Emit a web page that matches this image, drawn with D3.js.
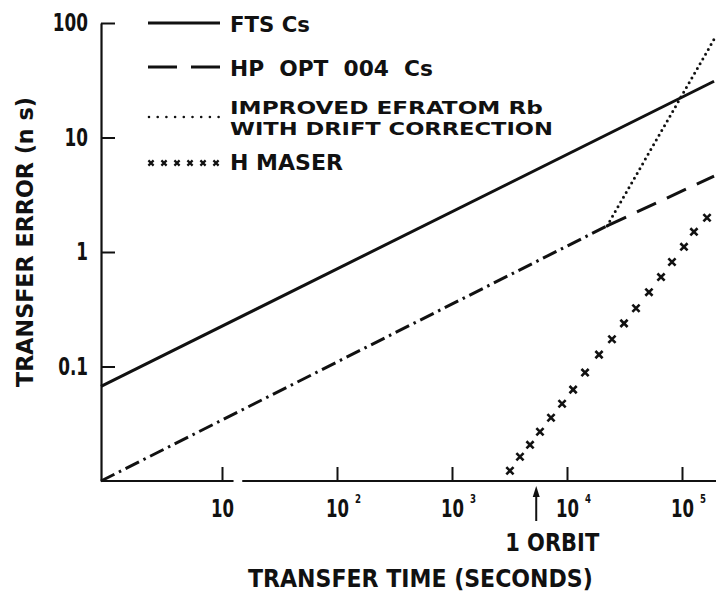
<!DOCTYPE html>
<html>
<head>
<meta charset="utf-8">
<script src="https://cdn.jsdelivr.net/npm/d3@7"></script>
<style>
  body { margin: 0; background: #fff; }
  text { font-family: "Liberation Sans Narrow", "DejaVu Sans Condensed", "Arial Narrow", sans-serif; font-weight: bold; fill: #111; white-space: pre; }
</style>
</head>
<body>
<div id="vis"></div>
<script>
// data (seconds vs ns)
var ftsTau = [0.887, 1.9e5];
var ftsErr = [0.067, 31.0];
var hpTauShared = [0.887, 2.23e4];      // dash-dot part (HP + Rb together)
var hpErrShared = [0.01, 1.69];
var hpTau = [2.23e4, 1.9e5];
var hpErr = [1.69, 4.6];
var rbTau = [2.23e4, 1.9e5];
var rbErr = [1.69, 72];
var maserTau = [3190, 3900, 4770, 5820, 7260, 9060, 11300, 14350, 18980, 24600, 31300, 39800, 51600, 65700, 81800, 104000, 127000, 165000];
var maserErr = [0.0123, 0.0163, 0.0207, 0.0269, 0.0357, 0.0473, 0.0628, 0.0885, 0.127, 0.173, 0.238, 0.323, 0.446, 0.604, 0.817, 1.11, 1.50, 1.99];
var xTicks = [10, 100, 1e3, 1e4, 1e5];
var xTickExp = ["", "2", "3", "4", "5"];
var yTicks = [0.1, 1, 10, 100];
var yTickLabels = ["0.1", "1", "10", "100"];
var xBreak = [12.6, 15.0];   // gap in the time axis
var orbitTau = 5400;
var legendNames = [["FTS Cs"], ["HP  OPT  004  Cs"], ["IMPROVED EFRATOM Rb", "WITH DRIFT CORRECTION"], ["H MASER"]];

var svg = d3.select("#vis").append("svg").attr("width", 716).attr("height", 596);

var x = d3.scaleLog().domain([1, 1e5]).range([107, 682]);
var y = d3.scaleLog().domain([0.01, 100]).range([481, 23]);

// squeeze a text horizontally to a given width (the scan uses a condensed face)
function fitText(parent, str, px, py, w, size, extra) {
    var t = parent.append("text").text(str).attr("font-size", size);
    var len = t.node().getComputedTextLength();
    t.attr("transform", "translate(" + px + "," + py + ")" + (extra || "") + " scale(" + (w / len) + ",1)");
    return t;
}

// y axis, ticks point inward
var yAxis = svg.append("g").attr("transform", "translate(" + x(ftsTau[0]) + ",0)")
    .call(d3.axisLeft(y).tickValues(yTicks).tickSizeInner(-14).tickSizeOuter(0).tickPadding(13)
        .tickFormat(function(d, i) { return yTickLabels[i]; }));
yAxis.select(".domain").attr("stroke", "#111").attr("stroke-width", 2.2);
yAxis.selectAll(".tick line").attr("stroke", "#111").attr("stroke-width", 2);
yAxis.selectAll(".tick text").attr("font-size", 24).attr("font-family", null)
    .attr("x", 0).attr("transform", "translate(-13,0) scale(0.78,1)");

// x axis, no domain - baseline drawn in two pieces because of the break
var xAxis = svg.append("g").attr("transform", "translate(0," + y(0.01) + ")")
    .call(d3.axisBottom(x).tickValues(xTicks).tickSizeInner(-14).tickSizeOuter(0).tickFormat(""));
xAxis.select(".domain").remove();
xAxis.selectAll(".tick line").attr("stroke", "#111").attr("stroke-width", 2);
var baseSegs = [[ftsTau[0], xBreak[0]], [xBreak[1], 2.1e5]];
svg.selectAll(".baseSeg").data(baseSegs).enter().append("line")
    .attr("x1", function(d) { return x(d[0]); }).attr("x2", function(d) { return x(d[1]); })
    .attr("y1", y(0.01)).attr("y2", y(0.01))
    .attr("stroke", "#111").attr("stroke-width", 2.2);

// x tick labels with superscripts
xTicks.forEach(function(t, i) {
    fitText(svg, "10", x(t) - 11, 517, 23, 25);
    if (xTickExp[i] != "") {
        fitText(svg, xTickExp[i], x(t) + 18, 503, 6, 12);
    }
});

// curves
var line = d3.line().x(function(d) { return x(d[0]); }).y(function(d) { return y(d[1]); });
function pts(a, b) { return a.map(function(v, i) { return [v, b[i]]; }); }

svg.append("path").attr("d", line(pts(ftsTau, ftsErr)))
    .attr("fill", "none").attr("stroke", "#111").attr("stroke-width", 3);
svg.append("path").attr("d", line(pts(hpTauShared, hpErrShared)))
    .attr("fill", "none").attr("stroke", "#111").attr("stroke-width", 3)
    .attr("stroke-dasharray", "15,5,2.5,5");
svg.append("path").attr("d", line(pts(hpTau, hpErr)))
    .attr("fill", "none").attr("stroke", "#111").attr("stroke-width", 3)
    .attr("stroke-dasharray", "21,12");
svg.append("path").attr("d", line(pts(rbTau, rbErr)))
    .attr("fill", "none").attr("stroke", "#111").attr("stroke-width", 3)
    .attr("stroke-linecap", "round").attr("stroke-dasharray", "0,5.5");

// maser crosses
function cross(g, cx, cy, r, sw) {
    g.append("path")
        .attr("d", "M" + (cx - r) + "," + (cy - r) + "L" + (cx + r) + "," + (cy + r) + "M" + (cx + r) + "," + (cy - r) + "L" + (cx - r) + "," + (cy + r))
        .attr("stroke", "#111").attr("stroke-width", sw).attr("fill", "none");
}
var maser = svg.append("g");
pts(maserTau, maserErr).forEach(function(d) { cross(maser, x(d[0]), y(d[1]), 3.6, 2.6); });

// legend
var lg = svg.append("g");
lg.append("line").attr("x1", 148).attr("x2", 220).attr("y1", 23).attr("y2", 23).attr("stroke", "#111").attr("stroke-width", 3);
lg.append("line").attr("x1", 148).attr("x2", 221).attr("y1", 67).attr("y2", 67).attr("stroke", "#111").attr("stroke-width", 3).attr("stroke-dasharray", "29,14");
lg.append("line").attr("x1", 149).attr("x2", 219).attr("y1", 117).attr("y2", 117).attr("stroke", "#111").attr("stroke-width", 2.6)
    .attr("stroke-linecap", "round").attr("stroke-dasharray", "0,8.7");
for (var k = 0; k < 6; k++) { cross(lg, 151 + k * 13, 163, 2.6, 2.2); }

var legendY = [[32], [76], [114, 135], [170]];
var legendW = [[80], [203], [313, 323], [113]];
var legendSize = [21, 21, 18, 21];
legendNames.forEach(function(lines, i) {
    lines.forEach(function(s, j) {
        fitText(lg, s, 230, legendY[i][j], legendW[i][j], legendSize[i]);
    });
});

// 1 orbit arrow
var ox = x(orbitTau);
svg.append("line").attr("x1", ox).attr("x2", ox).attr("y1", 495).attr("y2", 521).attr("stroke", "#111").attr("stroke-width", 2);
svg.append("path").attr("d", "M" + ox + ",486L" + (ox - 3.5) + ",497L" + (ox + 3.5) + ",497Z").attr("fill", "#111");
fitText(svg, "1 ORBIT", ox - 31, 551, 94, 24);

// axis titles
fitText(svg, "TRANSFER TIME (SECONDS)", 248, 587, 345, 24);
fitText(svg, "TRANSFER ERROR (n s)", 33, 387, 290, 23, " rotate(-90)");
</script>
</body>
</html>
